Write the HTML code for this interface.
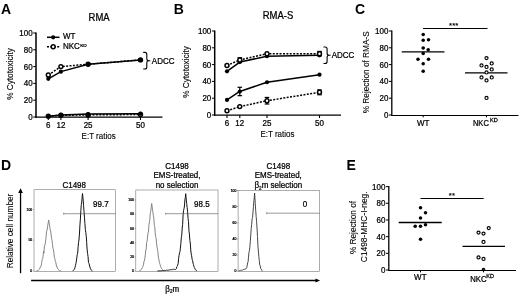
<!DOCTYPE html>
<html><head><meta charset="utf-8"><title>Figure</title>
<style>html,body{margin:0;padding:0;background:#fff;}svg{display:block;filter:blur(0.3px);}text{font-family:"Liberation Sans",Arial,Helvetica,sans-serif;}</style>
</head><body>
<svg width="520" height="296" viewBox="0 0 520 296">
<rect width="520" height="296" fill="#fff"/>
<text transform="translate(1 14) scale(1 1)" font-size="14" text-anchor="start" font-weight="bold" fill="#000" >A</text>
<line x1="36" y1="32.5" x2="36" y2="117.7" stroke="#000" stroke-width="1.5" stroke-linecap="butt"/>
<line x1="35.3" y1="117" x2="162.5" y2="117" stroke="#000" stroke-width="1.25" stroke-linecap="butt"/>
<line x1="33.2" y1="117.0" x2="36" y2="117.0" stroke="#000" stroke-width="1.0" stroke-linecap="butt"/>
<text transform="translate(32.6 119.9) scale(0.93 1)" font-size="8.6" text-anchor="end" font-weight="normal" fill="#000" stroke="#000" stroke-width="0.25" >0</text>
<line x1="33.2" y1="100.2" x2="36" y2="100.2" stroke="#000" stroke-width="1.0" stroke-linecap="butt"/>
<text transform="translate(32.6 103.10000000000001) scale(0.93 1)" font-size="8.6" text-anchor="end" font-weight="normal" fill="#000" stroke="#000" stroke-width="0.25" >20</text>
<line x1="33.2" y1="83.4" x2="36" y2="83.4" stroke="#000" stroke-width="1.0" stroke-linecap="butt"/>
<text transform="translate(32.6 86.30000000000001) scale(0.93 1)" font-size="8.6" text-anchor="end" font-weight="normal" fill="#000" stroke="#000" stroke-width="0.25" >40</text>
<line x1="33.2" y1="66.6" x2="36" y2="66.6" stroke="#000" stroke-width="1.0" stroke-linecap="butt"/>
<text transform="translate(32.6 69.5) scale(0.93 1)" font-size="8.6" text-anchor="end" font-weight="normal" fill="#000" stroke="#000" stroke-width="0.25" >60</text>
<line x1="33.2" y1="49.8" x2="36" y2="49.8" stroke="#000" stroke-width="1.0" stroke-linecap="butt"/>
<text transform="translate(32.6 52.699999999999996) scale(0.93 1)" font-size="8.6" text-anchor="end" font-weight="normal" fill="#000" stroke="#000" stroke-width="0.25" >80</text>
<line x1="33.2" y1="33.0" x2="36" y2="33.0" stroke="#000" stroke-width="1.0" stroke-linecap="butt"/>
<text transform="translate(32.6 35.9) scale(0.93 1)" font-size="8.6" text-anchor="end" font-weight="normal" fill="#000" stroke="#000" stroke-width="0.25" >100</text>
<line x1="48.3" y1="117" x2="48.3" y2="120" stroke="#000" stroke-width="1.1" stroke-linecap="butt"/>
<text transform="translate(48.3 127.6) scale(0.93 1)" font-size="8.6" text-anchor="middle" font-weight="normal" fill="#000" stroke="#000" stroke-width="0.25" >6</text>
<line x1="60.9" y1="117" x2="60.9" y2="120" stroke="#000" stroke-width="1.1" stroke-linecap="butt"/>
<text transform="translate(60.9 127.6) scale(0.93 1)" font-size="8.6" text-anchor="middle" font-weight="normal" fill="#000" stroke="#000" stroke-width="0.25" >12</text>
<line x1="88.1" y1="117" x2="88.1" y2="120" stroke="#000" stroke-width="1.1" stroke-linecap="butt"/>
<text transform="translate(88.1 127.6) scale(0.93 1)" font-size="8.6" text-anchor="middle" font-weight="normal" fill="#000" stroke="#000" stroke-width="0.25" >25</text>
<line x1="140.5" y1="117" x2="140.5" y2="120" stroke="#000" stroke-width="1.1" stroke-linecap="butt"/>
<text transform="translate(140.5 127.6) scale(0.93 1)" font-size="8.6" text-anchor="middle" font-weight="normal" fill="#000" stroke="#000" stroke-width="0.25" >50</text>
<text transform="translate(98.60000000000001 139.4) scale(0.93 1)" font-size="8.6" text-anchor="middle" font-weight="normal" fill="#000" stroke="#000" stroke-width="0.12" >E:T ratios</text>
<text transform="translate(13.2 74.0) rotate(-90) scale(0.96 1)" font-size="8.6" text-anchor="middle" font-weight="normal" fill="#000" stroke="#000" stroke-width="0.1" >% Cytotoxicity</text>
<text transform="translate(99.1 21) scale(0.93 1)" font-size="10.21" text-anchor="middle" font-weight="normal" fill="#000" stroke="#000" stroke-width="0.25" >RMA</text>
<polyline points="48.30,75.00 60.90,66.60 88.10,64.25 140.50,59.88" fill="none" stroke="#000" stroke-width="1.5" stroke-linejoin="round" stroke-dasharray="2 1.4"/>
<circle cx="48.3" cy="75.0" r="1.95" fill="#fff" stroke="#000" stroke-width="1.5"/>
<circle cx="60.9" cy="66.6" r="1.95" fill="#fff" stroke="#000" stroke-width="1.5"/>
<circle cx="88.1" cy="64.248" r="1.95" fill="#fff" stroke="#000" stroke-width="1.5"/>
<circle cx="140.5" cy="59.88" r="1.95" fill="#fff" stroke="#000" stroke-width="1.5"/>
<polyline points="48.30,78.78 60.90,71.64 88.10,64.25 140.50,59.88" fill="none" stroke="#000" stroke-width="1.5" stroke-linejoin="round"/>
<circle cx="48.3" cy="78.78" r="2.1" fill="#000" stroke="none" stroke-width="1"/>
<circle cx="60.9" cy="71.64" r="2.1" fill="#000" stroke="none" stroke-width="1"/>
<circle cx="88.1" cy="64.248" r="2.1" fill="#000" stroke="none" stroke-width="1"/>
<circle cx="140.5" cy="59.88" r="2.1" fill="#000" stroke="none" stroke-width="1"/>
<polyline points="48.30,116.16 60.90,115.32 88.10,114.90 140.50,114.48" fill="none" stroke="#000" stroke-width="1.5" stroke-linejoin="round" stroke-dasharray="2 1.4"/>
<circle cx="48.3" cy="116.16" r="1.95" fill="#fff" stroke="#000" stroke-width="1.5"/>
<circle cx="60.9" cy="115.32" r="1.95" fill="#fff" stroke="#000" stroke-width="1.5"/>
<circle cx="88.1" cy="114.9" r="1.95" fill="#fff" stroke="#000" stroke-width="1.5"/>
<circle cx="140.5" cy="114.48" r="1.95" fill="#fff" stroke="#000" stroke-width="1.5"/>
<polyline points="48.30,116.16 60.90,114.90 88.10,114.06 140.50,113.64" fill="none" stroke="#000" stroke-width="1.5" stroke-linejoin="round"/>
<circle cx="48.3" cy="116.16" r="2.1" fill="#000" stroke="none" stroke-width="1"/>
<circle cx="60.9" cy="114.9" r="2.1" fill="#000" stroke="none" stroke-width="1"/>
<circle cx="88.1" cy="114.06" r="2.1" fill="#000" stroke="none" stroke-width="1"/>
<circle cx="140.5" cy="113.64" r="2.1" fill="#000" stroke="none" stroke-width="1"/>
<path d="M143.2 52.4 h1.6 q2 0 2 2 V58.7 q0 2 2 2 h1.5 h-1.5 q-2 0 -2 2 V67 q0 2 -2 2 h-1.6" fill="none" stroke="#000" stroke-width="1.1"/>
<text transform="translate(151.8 63.6) scale(0.93 1)" font-size="8.6" text-anchor="start" font-weight="normal" fill="#000" stroke="#000" stroke-width="0.25" >ADCC</text>
<line x1="47" y1="37.3" x2="59.5" y2="37.3" stroke="#000" stroke-width="1.5" stroke-linecap="butt"/>
<circle cx="53.2" cy="37.3" r="2.1" fill="#000" stroke="none" stroke-width="1"/>
<text transform="translate(63 39.3) scale(0.93 1)" font-size="8.6" text-anchor="start" font-weight="normal" fill="#000" stroke="#000" stroke-width="0.25" >WT</text>
<line x1="47" y1="46.8" x2="59.5" y2="46.8" stroke="#000" stroke-width="1.5" stroke-linecap="butt" stroke-dasharray="2 1.4"/>
<circle cx="53.2" cy="46.8" r="1.95" fill="#fff" stroke="#000" stroke-width="1.5"/>
<text transform="translate(63 48.8) scale(0.93 1)" font-size="8.6" text-anchor="start" font-weight="normal" fill="#000" stroke="#000" stroke-width="0.25" >NKC</text>
<text transform="translate(80.183778 46.72) scale(1.1 1)" font-size="4.3" text-anchor="start" font-weight="normal" fill="#000" stroke="#000" stroke-width="0.25" >KD</text>
<text transform="translate(173.8 14) scale(1 1)" font-size="14" text-anchor="start" font-weight="bold" fill="#000" >B</text>
<line x1="214.7" y1="30.5" x2="214.7" y2="115.7" stroke="#000" stroke-width="1.5" stroke-linecap="butt"/>
<line x1="214.0" y1="115" x2="341" y2="115" stroke="#000" stroke-width="1.25" stroke-linecap="butt"/>
<line x1="211.89999999999998" y1="115.0" x2="214.7" y2="115.0" stroke="#000" stroke-width="1.0" stroke-linecap="butt"/>
<text transform="translate(211.29999999999998 117.9) scale(0.93 1)" font-size="8.6" text-anchor="end" font-weight="normal" fill="#000" stroke="#000" stroke-width="0.25" >0</text>
<line x1="211.89999999999998" y1="98.2" x2="214.7" y2="98.2" stroke="#000" stroke-width="1.0" stroke-linecap="butt"/>
<text transform="translate(211.29999999999998 101.10000000000001) scale(0.93 1)" font-size="8.6" text-anchor="end" font-weight="normal" fill="#000" stroke="#000" stroke-width="0.25" >20</text>
<line x1="211.89999999999998" y1="81.4" x2="214.7" y2="81.4" stroke="#000" stroke-width="1.0" stroke-linecap="butt"/>
<text transform="translate(211.29999999999998 84.30000000000001) scale(0.93 1)" font-size="8.6" text-anchor="end" font-weight="normal" fill="#000" stroke="#000" stroke-width="0.25" >40</text>
<line x1="211.89999999999998" y1="64.6" x2="214.7" y2="64.6" stroke="#000" stroke-width="1.0" stroke-linecap="butt"/>
<text transform="translate(211.29999999999998 67.5) scale(0.93 1)" font-size="8.6" text-anchor="end" font-weight="normal" fill="#000" stroke="#000" stroke-width="0.25" >60</text>
<line x1="211.89999999999998" y1="47.8" x2="214.7" y2="47.8" stroke="#000" stroke-width="1.0" stroke-linecap="butt"/>
<text transform="translate(211.29999999999998 50.699999999999996) scale(0.93 1)" font-size="8.6" text-anchor="end" font-weight="normal" fill="#000" stroke="#000" stroke-width="0.25" >80</text>
<line x1="211.89999999999998" y1="31.0" x2="214.7" y2="31.0" stroke="#000" stroke-width="1.0" stroke-linecap="butt"/>
<text transform="translate(211.29999999999998 33.9) scale(0.93 1)" font-size="8.6" text-anchor="end" font-weight="normal" fill="#000" stroke="#000" stroke-width="0.25" >100</text>
<line x1="227" y1="115" x2="227" y2="118" stroke="#000" stroke-width="1.1" stroke-linecap="butt"/>
<text transform="translate(227 125.6) scale(0.93 1)" font-size="8.6" text-anchor="middle" font-weight="normal" fill="#000" stroke="#000" stroke-width="0.25" >6</text>
<line x1="239.8" y1="115" x2="239.8" y2="118" stroke="#000" stroke-width="1.1" stroke-linecap="butt"/>
<text transform="translate(239.8 125.6) scale(0.93 1)" font-size="8.6" text-anchor="middle" font-weight="normal" fill="#000" stroke="#000" stroke-width="0.25" >12</text>
<line x1="267" y1="115" x2="267" y2="118" stroke="#000" stroke-width="1.1" stroke-linecap="butt"/>
<text transform="translate(267 125.6) scale(0.93 1)" font-size="8.6" text-anchor="middle" font-weight="normal" fill="#000" stroke="#000" stroke-width="0.25" >25</text>
<line x1="319.5" y1="115" x2="319.5" y2="118" stroke="#000" stroke-width="1.1" stroke-linecap="butt"/>
<text transform="translate(319.5 125.6) scale(0.93 1)" font-size="8.6" text-anchor="middle" font-weight="normal" fill="#000" stroke="#000" stroke-width="0.25" >50</text>
<text transform="translate(277.45 137.4) scale(0.93 1)" font-size="8.6" text-anchor="middle" font-weight="normal" fill="#000" stroke="#000" stroke-width="0.12" >E:T ratios</text>
<text transform="translate(189.4 72.0) rotate(-90) scale(0.96 1)" font-size="8.6" text-anchor="middle" font-weight="normal" fill="#000" stroke="#000" stroke-width="0.1" >% Cytotoxicity</text>
<text transform="translate(278 19.3) scale(0.93 1)" font-size="10.21" text-anchor="middle" font-weight="normal" fill="#000" stroke="#000" stroke-width="0.25" >RMA-S</text>
<polyline points="227.00,71.32 239.80,62.08 267.00,56.20 319.50,55.36" fill="none" stroke="#000" stroke-width="1.5" stroke-linejoin="round"/>
<circle cx="227" cy="71.32" r="2.1" fill="#000" stroke="none" stroke-width="1"/>
<circle cx="239.8" cy="62.080000000000005" r="2.1" fill="#000" stroke="none" stroke-width="1"/>
<circle cx="267" cy="56.2" r="2.1" fill="#000" stroke="none" stroke-width="1"/>
<circle cx="319.5" cy="55.36" r="2.1" fill="#000" stroke="none" stroke-width="1"/>
<polyline points="227.00,65.44 239.80,59.98 267.00,53.68 319.50,53.68" fill="none" stroke="#000" stroke-width="1.5" stroke-linejoin="round" stroke-dasharray="2 1.4"/>
<circle cx="227" cy="65.44" r="1.95" fill="#fff" stroke="#000" stroke-width="1.5"/>
<line x1="239.8" y1="57.712" x2="239.8" y2="62.248000000000005" stroke="#000" stroke-width="1.2" stroke-linecap="butt"/>
<line x1="237.5" y1="57.712" x2="242.10000000000002" y2="57.712" stroke="#000" stroke-width="1.2" stroke-linecap="butt"/>
<line x1="237.5" y1="62.248000000000005" x2="242.10000000000002" y2="62.248000000000005" stroke="#000" stroke-width="1.2" stroke-linecap="butt"/>
<circle cx="239.8" cy="59.980000000000004" r="1.95" fill="#fff" stroke="#000" stroke-width="1.5"/>
<circle cx="267" cy="53.68" r="1.95" fill="#fff" stroke="#000" stroke-width="1.5"/>
<line x1="319.5" y1="51.412" x2="319.5" y2="55.948" stroke="#000" stroke-width="1.2" stroke-linecap="butt"/>
<line x1="317.2" y1="51.412" x2="321.8" y2="51.412" stroke="#000" stroke-width="1.2" stroke-linecap="butt"/>
<line x1="317.2" y1="55.948" x2="321.8" y2="55.948" stroke="#000" stroke-width="1.2" stroke-linecap="butt"/>
<circle cx="319.5" cy="53.68" r="1.95" fill="#fff" stroke="#000" stroke-width="1.5"/>
<polyline points="227.00,99.88 239.80,91.48 267.00,82.24 319.50,74.68" fill="none" stroke="#000" stroke-width="1.5" stroke-linejoin="round"/>
<circle cx="227" cy="99.88" r="2.1" fill="#000" stroke="none" stroke-width="1"/>
<line x1="239.8" y1="87.28" x2="239.8" y2="95.68" stroke="#000" stroke-width="1.2" stroke-linecap="butt"/>
<line x1="237.5" y1="87.28" x2="242.10000000000002" y2="87.28" stroke="#000" stroke-width="1.2" stroke-linecap="butt"/>
<line x1="237.5" y1="95.68" x2="242.10000000000002" y2="95.68" stroke="#000" stroke-width="1.2" stroke-linecap="butt"/>
<circle cx="239.8" cy="91.48" r="2.1" fill="#000" stroke="none" stroke-width="1"/>
<circle cx="267" cy="82.24000000000001" r="2.1" fill="#000" stroke="none" stroke-width="1"/>
<circle cx="319.5" cy="74.68" r="2.1" fill="#000" stroke="none" stroke-width="1"/>
<polyline points="227.00,110.80 239.80,106.60 267.00,100.72 319.50,92.32" fill="none" stroke="#000" stroke-width="1.5" stroke-linejoin="round" stroke-dasharray="2 1.4"/>
<circle cx="227" cy="110.8" r="1.95" fill="#fff" stroke="#000" stroke-width="1.5"/>
<circle cx="239.8" cy="106.6" r="1.95" fill="#fff" stroke="#000" stroke-width="1.5"/>
<line x1="267" y1="97.444" x2="267" y2="103.996" stroke="#000" stroke-width="1.2" stroke-linecap="butt"/>
<line x1="264.7" y1="97.444" x2="269.3" y2="97.444" stroke="#000" stroke-width="1.2" stroke-linecap="butt"/>
<line x1="264.7" y1="103.996" x2="269.3" y2="103.996" stroke="#000" stroke-width="1.2" stroke-linecap="butt"/>
<circle cx="267" cy="100.72" r="1.95" fill="#fff" stroke="#000" stroke-width="1.5"/>
<line x1="319.5" y1="89.88399999999999" x2="319.5" y2="94.756" stroke="#000" stroke-width="1.2" stroke-linecap="butt"/>
<line x1="317.2" y1="89.88399999999999" x2="321.8" y2="89.88399999999999" stroke="#000" stroke-width="1.2" stroke-linecap="butt"/>
<line x1="317.2" y1="94.756" x2="321.8" y2="94.756" stroke="#000" stroke-width="1.2" stroke-linecap="butt"/>
<circle cx="319.5" cy="92.32" r="1.95" fill="#fff" stroke="#000" stroke-width="1.5"/>
<path d="M323.5 47 h1.6 q2 0 2 2 V53.25 q0 2 2 2 h1.5 h-1.5 q-2 0 -2 2 V61.5 q0 2 -2 2 h-1.6" fill="none" stroke="#000" stroke-width="1.1"/>
<text transform="translate(331.7 58.15) scale(0.93 1)" font-size="8.6" text-anchor="start" font-weight="normal" fill="#000" stroke="#000" stroke-width="0.25" >ADCC</text>
<text transform="translate(355 14) scale(1 1)" font-size="14" text-anchor="start" font-weight="bold" fill="#000" >C</text>
<line x1="391.8" y1="30.5" x2="391.8" y2="115.5" stroke="#000" stroke-width="1.3" stroke-linecap="butt"/>
<line x1="391.2" y1="115.45" x2="518.5" y2="115.45" stroke="#000" stroke-width="1.15" stroke-linecap="butt"/>
<line x1="389.0" y1="115.0" x2="391.8" y2="115.0" stroke="#000" stroke-width="1.0" stroke-linecap="butt"/>
<text transform="translate(388.40000000000003 117.9) scale(0.93 1)" font-size="8.6" text-anchor="end" font-weight="normal" fill="#000" stroke="#000" stroke-width="0.25" >0</text>
<line x1="389.0" y1="98.2" x2="391.8" y2="98.2" stroke="#000" stroke-width="1.0" stroke-linecap="butt"/>
<text transform="translate(388.40000000000003 101.10000000000001) scale(0.93 1)" font-size="8.6" text-anchor="end" font-weight="normal" fill="#000" stroke="#000" stroke-width="0.25" >20</text>
<line x1="389.0" y1="81.4" x2="391.8" y2="81.4" stroke="#000" stroke-width="1.0" stroke-linecap="butt"/>
<text transform="translate(388.40000000000003 84.30000000000001) scale(0.93 1)" font-size="8.6" text-anchor="end" font-weight="normal" fill="#000" stroke="#000" stroke-width="0.25" >40</text>
<line x1="389.0" y1="64.6" x2="391.8" y2="64.6" stroke="#000" stroke-width="1.0" stroke-linecap="butt"/>
<text transform="translate(388.40000000000003 67.5) scale(0.93 1)" font-size="8.6" text-anchor="end" font-weight="normal" fill="#000" stroke="#000" stroke-width="0.25" >60</text>
<line x1="389.0" y1="47.8" x2="391.8" y2="47.8" stroke="#000" stroke-width="1.0" stroke-linecap="butt"/>
<text transform="translate(388.40000000000003 50.699999999999996) scale(0.93 1)" font-size="8.6" text-anchor="end" font-weight="normal" fill="#000" stroke="#000" stroke-width="0.25" >80</text>
<line x1="389.0" y1="31.0" x2="391.8" y2="31.0" stroke="#000" stroke-width="1.0" stroke-linecap="butt"/>
<text transform="translate(388.40000000000003 33.9) scale(0.93 1)" font-size="8.6" text-anchor="end" font-weight="normal" fill="#000" stroke="#000" stroke-width="0.25" >100</text>
<line x1="423.2" y1="115" x2="423.2" y2="117.4" stroke="#000" stroke-width="1.0" stroke-linecap="butt"/>
<line x1="486.5" y1="115" x2="486.5" y2="117.4" stroke="#000" stroke-width="1.0" stroke-linecap="butt"/>
<text transform="translate(369.1 72.3) rotate(-90) scale(0.96 1)" font-size="8.6" text-anchor="middle" font-weight="normal" fill="#000" stroke="#000" stroke-width="0.1" >% Rejection of RMA-S</text>
<line x1="423" y1="28.5" x2="487.5" y2="28.5" stroke="#000" stroke-width="1.2" stroke-linecap="butt"/>
<text transform="translate(453.7 28.3) scale(1.0 1)" font-size="7.74" text-anchor="middle" font-weight="normal" fill="#000" stroke="#000" stroke-width="0.15" letter-spacing="0.1">***</text>
<line x1="401.7" y1="51.9" x2="444.5" y2="51.9" stroke="#000" stroke-width="1.3" stroke-linecap="butt"/>
<circle cx="423.2" cy="34.5" r="1.78" fill="#000" stroke="none" stroke-width="1"/>
<circle cx="423.2" cy="40.2" r="1.78" fill="#000" stroke="none" stroke-width="1"/>
<circle cx="428.5" cy="39.7" r="1.78" fill="#000" stroke="none" stroke-width="1"/>
<circle cx="423.2" cy="48" r="1.78" fill="#000" stroke="none" stroke-width="1"/>
<circle cx="428.2" cy="49.7" r="1.78" fill="#000" stroke="none" stroke-width="1"/>
<circle cx="423.2" cy="53.5" r="1.78" fill="#000" stroke="none" stroke-width="1"/>
<circle cx="418" cy="59.2" r="1.78" fill="#000" stroke="none" stroke-width="1"/>
<circle cx="428.5" cy="59.2" r="1.78" fill="#000" stroke="none" stroke-width="1"/>
<circle cx="423.2" cy="63.7" r="1.78" fill="#000" stroke="none" stroke-width="1"/>
<circle cx="423.2" cy="71.2" r="1.78" fill="#000" stroke="none" stroke-width="1"/>
<line x1="465" y1="72.9" x2="507.5" y2="72.9" stroke="#000" stroke-width="1.3" stroke-linecap="butt"/>
<circle cx="486.5" cy="58.1" r="1.55" fill="#fff" stroke="#000" stroke-width="1.15"/>
<circle cx="481.5" cy="65.4" r="1.55" fill="#fff" stroke="#000" stroke-width="1.15"/>
<circle cx="491.7" cy="63.4" r="1.55" fill="#fff" stroke="#000" stroke-width="1.15"/>
<circle cx="486.5" cy="66.9" r="1.55" fill="#fff" stroke="#000" stroke-width="1.15"/>
<circle cx="491.7" cy="69.4" r="1.55" fill="#fff" stroke="#000" stroke-width="1.15"/>
<circle cx="486.5" cy="72.4" r="1.55" fill="#fff" stroke="#000" stroke-width="1.15"/>
<circle cx="481.5" cy="77.4" r="1.55" fill="#fff" stroke="#000" stroke-width="1.15"/>
<circle cx="491.7" cy="77.4" r="1.55" fill="#fff" stroke="#000" stroke-width="1.15"/>
<circle cx="486.5" cy="80.4" r="1.55" fill="#fff" stroke="#000" stroke-width="1.15"/>
<circle cx="486.5" cy="97.9" r="1.55" fill="#fff" stroke="#000" stroke-width="1.15"/>
<text transform="translate(423.2 125.6) scale(0.93 1)" font-size="8.6" text-anchor="middle" font-weight="normal" fill="#000" stroke="#000" stroke-width="0.25" >WT</text>
<text transform="translate(472.9 125.7) scale(0.88 1)" font-size="8.6" text-anchor="start" font-weight="normal" fill="#000" stroke="#000" stroke-width="0.25" >NKC</text>
<text transform="translate(490.07604799999996 121.7) scale(1.05 1)" font-size="5.33" text-anchor="start" font-weight="normal" fill="#000" stroke="#000" stroke-width="0.25" >KD</text>
<text transform="translate(346.6 170) scale(1 1)" font-size="14" text-anchor="start" font-weight="bold" fill="#000" >E</text>
<line x1="388.8" y1="186.1" x2="388.8" y2="270.5" stroke="#000" stroke-width="1.3" stroke-linecap="butt"/>
<line x1="388.2" y1="270.45" x2="516" y2="270.45" stroke="#000" stroke-width="1.15" stroke-linecap="butt"/>
<line x1="386.0" y1="270.0" x2="388.8" y2="270.0" stroke="#000" stroke-width="1.0" stroke-linecap="butt"/>
<text transform="translate(385.40000000000003 272.9) scale(0.93 1)" font-size="8.6" text-anchor="end" font-weight="normal" fill="#000" stroke="#000" stroke-width="0.25" >0</text>
<line x1="386.0" y1="253.32" x2="388.8" y2="253.32" stroke="#000" stroke-width="1.0" stroke-linecap="butt"/>
<text transform="translate(385.40000000000003 256.21999999999997) scale(0.93 1)" font-size="8.6" text-anchor="end" font-weight="normal" fill="#000" stroke="#000" stroke-width="0.25" >20</text>
<line x1="386.0" y1="236.64" x2="388.8" y2="236.64" stroke="#000" stroke-width="1.0" stroke-linecap="butt"/>
<text transform="translate(385.40000000000003 239.54) scale(0.93 1)" font-size="8.6" text-anchor="end" font-weight="normal" fill="#000" stroke="#000" stroke-width="0.25" >40</text>
<line x1="386.0" y1="219.95999999999998" x2="388.8" y2="219.95999999999998" stroke="#000" stroke-width="1.0" stroke-linecap="butt"/>
<text transform="translate(385.40000000000003 222.85999999999999) scale(0.93 1)" font-size="8.6" text-anchor="end" font-weight="normal" fill="#000" stroke="#000" stroke-width="0.25" >60</text>
<line x1="386.0" y1="203.28" x2="388.8" y2="203.28" stroke="#000" stroke-width="1.0" stroke-linecap="butt"/>
<text transform="translate(385.40000000000003 206.18) scale(0.93 1)" font-size="8.6" text-anchor="end" font-weight="normal" fill="#000" stroke="#000" stroke-width="0.25" >80</text>
<line x1="386.0" y1="186.6" x2="388.8" y2="186.6" stroke="#000" stroke-width="1.0" stroke-linecap="butt"/>
<text transform="translate(385.40000000000003 189.5) scale(0.93 1)" font-size="8.6" text-anchor="end" font-weight="normal" fill="#000" stroke="#000" stroke-width="0.25" >100</text>
<line x1="420.5" y1="270.0" x2="420.5" y2="272.4" stroke="#000" stroke-width="1.0" stroke-linecap="butt"/>
<line x1="483.5" y1="270.0" x2="483.5" y2="272.4" stroke="#000" stroke-width="1.0" stroke-linecap="butt"/>
<text transform="translate(355.8 227.5) rotate(-90) scale(0.96 1)" font-size="8.6" text-anchor="middle" font-weight="normal" fill="#000" stroke="#000" stroke-width="0.1" >% Rejection of</text>
<text transform="translate(367 226.8) rotate(-90) scale(0.975 1)" font-size="8.6" text-anchor="middle" font-weight="normal" fill="#000" stroke="#000" stroke-width="0.1" >C1498-MHC-I-neg.</text>
<line x1="420.5" y1="198.5" x2="483.7" y2="198.5" stroke="#000" stroke-width="1.2" stroke-linecap="butt"/>
<text transform="translate(451.9 198.0) scale(1.0 1)" font-size="7.74" text-anchor="middle" font-weight="normal" fill="#000" stroke="#000" stroke-width="0.15" letter-spacing="0.1">**</text>
<line x1="398.7" y1="222.5" x2="441.7" y2="222.5" stroke="#000" stroke-width="1.3" stroke-linecap="butt"/>
<circle cx="420.5" cy="207.7" r="1.78" fill="#000" stroke="none" stroke-width="1"/>
<circle cx="425.5" cy="212.7" r="1.78" fill="#000" stroke="none" stroke-width="1"/>
<circle cx="420.5" cy="218" r="1.78" fill="#000" stroke="none" stroke-width="1"/>
<circle cx="425.5" cy="224.7" r="1.78" fill="#000" stroke="none" stroke-width="1"/>
<circle cx="415.2" cy="226.2" r="1.78" fill="#000" stroke="none" stroke-width="1"/>
<circle cx="420.5" cy="226.2" r="1.78" fill="#000" stroke="none" stroke-width="1"/>
<circle cx="420.5" cy="239.2" r="1.78" fill="#000" stroke="none" stroke-width="1"/>
<line x1="462.5" y1="246.3" x2="505" y2="246.3" stroke="#000" stroke-width="1.3" stroke-linecap="butt"/>
<circle cx="488.7" cy="228.1" r="1.55" fill="#fff" stroke="#000" stroke-width="1.15"/>
<circle cx="478.5" cy="232.6" r="1.55" fill="#fff" stroke="#000" stroke-width="1.15"/>
<circle cx="483.5" cy="233.6" r="1.55" fill="#fff" stroke="#000" stroke-width="1.15"/>
<circle cx="483.5" cy="241.9" r="1.55" fill="#fff" stroke="#000" stroke-width="1.15"/>
<circle cx="478.5" cy="257.4" r="1.55" fill="#fff" stroke="#000" stroke-width="1.15"/>
<circle cx="483.5" cy="258.9" r="1.55" fill="#fff" stroke="#000" stroke-width="1.15"/>
<circle cx="483.5" cy="269.5" r="1.1" fill="#fff" stroke="#000" stroke-width="1.5"/>
<text transform="translate(420.3 280) scale(0.93 1)" font-size="8.6" text-anchor="middle" font-weight="normal" fill="#000" stroke="#000" stroke-width="0.25" >WT</text>
<text transform="translate(470.2 281.5) scale(0.9 1)" font-size="8.6" text-anchor="start" font-weight="normal" fill="#000" stroke="#000" stroke-width="0.25" >NKC</text>
<text transform="translate(486.23913999999996 277.5) scale(1.05 1)" font-size="5.33" text-anchor="start" font-weight="normal" fill="#000" stroke="#000" stroke-width="0.25" >KD</text>
<text transform="translate(1 170) scale(1 1)" font-size="14" text-anchor="start" font-weight="bold" fill="#000" >D</text>
<rect x="34.0" y="189.7" width="81.6" height="81.80000000000001" fill="none" stroke="#777" stroke-width="0.6"/>
<polyline points="36.30,270.97 36.75,270.89 37.20,270.81 37.65,270.53 38.10,270.44 38.55,269.95 39.00,269.75 39.45,269.23 39.90,268.20 40.35,266.69 40.80,266.73 41.25,265.28 41.70,262.65 42.15,259.64 42.60,258.62 43.05,256.88 43.50,251.55 43.95,253.05 44.40,245.91 44.85,245.60 45.30,243.06 45.75,239.86 46.20,235.78 46.65,230.85 47.10,230.21 47.55,226.46 48.00,223.94 48.45,221.65 48.70,220.00 48.90,221.25 49.35,224.50 49.80,227.35 50.25,229.82 50.70,231.04 51.15,234.93 51.60,238.58 52.05,240.50 52.50,244.41 52.95,248.40 53.40,249.03 53.85,252.50 54.30,257.25 54.75,258.36 55.20,260.78 55.65,261.75 56.10,263.94 56.55,266.29 57.00,266.33 57.45,268.48 57.90,268.87 58.35,269.22 58.80,270.05 59.25,270.24 59.70,270.63 60.15,270.68 60.60,270.82 61.05,270.96" fill="none" stroke="#777" stroke-width="0.9" stroke-linejoin="round"/>
<polyline points="72.75,270.72 73.20,270.50 73.65,270.02 74.10,269.71 74.55,269.09 75.00,267.39 75.45,265.50 75.90,263.67 76.35,261.18 76.80,257.92 77.25,254.44 77.70,253.02 78.15,246.46 78.60,242.26 79.05,239.03 79.50,233.00 79.95,224.87 80.40,218.90 80.85,210.64 81.30,204.56 81.75,201.90 82.20,196.41 82.50,193.50 82.65,194.96 83.10,199.07 83.55,205.44 84.00,211.39 84.45,217.12 84.90,223.41 85.35,229.57 85.80,232.44 86.25,236.29 86.70,242.47 87.15,249.99 87.60,253.49 88.05,256.78 88.50,262.68 88.95,263.37 89.40,264.99 89.85,266.95 90.30,268.27 90.75,269.39 91.20,270.14 91.65,270.31 92.10,270.72 92.55,270.84" fill="none" stroke="#111" stroke-width="1.0" stroke-linejoin="round"/>
<line x1="63.7" y1="213.7" x2="115.6" y2="213.7" stroke="#555" stroke-width="0.6" stroke-linecap="butt"/>
<line x1="63.7" y1="212.7" x2="63.7" y2="214.7" stroke="#555" stroke-width="0.6" stroke-linecap="butt"/>
<text transform="translate(100.8 207.4) scale(0.93 1)" font-size="8.6" text-anchor="middle" font-weight="normal" fill="#000" stroke="#000" stroke-width="0.25" >99.7</text>
<line x1="32.8" y1="209.5" x2="34.0" y2="209.5" stroke="#666" stroke-width="0.5" stroke-linecap="butt"/>
<text transform="translate(32.2 210.6) scale(0.93 1)" font-size="3.65" text-anchor="end" font-weight="normal" fill="#222" stroke="#000" stroke-width="0.25" >100</text>
<line x1="32.8" y1="240.3" x2="34.0" y2="240.3" stroke="#666" stroke-width="0.5" stroke-linecap="butt"/>
<text transform="translate(32.2 241.4) scale(0.93 1)" font-size="3.65" text-anchor="end" font-weight="normal" fill="#222" stroke="#000" stroke-width="0.25" >50</text>
<line x1="32.8" y1="271.2" x2="34.0" y2="271.2" stroke="#666" stroke-width="0.5" stroke-linecap="butt"/>
<text transform="translate(32.2 272.3) scale(0.93 1)" font-size="3.65" text-anchor="end" font-weight="normal" fill="#222" stroke="#000" stroke-width="0.25" >0</text>
<rect x="135.8" y="190" width="82.19999999999999" height="81.5" fill="none" stroke="#777" stroke-width="0.6"/>
<polyline points="139.00,270.86 139.45,270.62 139.90,270.40 140.35,270.32 140.80,269.98 141.25,269.51 141.70,268.99 142.15,267.84 142.60,267.34 143.05,265.90 143.50,265.18 143.95,261.24 144.40,260.93 144.85,258.17 145.30,254.83 145.75,249.95 146.20,249.25 146.65,242.44 147.10,241.23 147.55,236.99 148.00,232.94 148.45,232.05 148.90,225.33 149.35,222.79 149.80,219.72 150.25,213.04 150.70,211.76 151.15,207.76 151.60,204.25 151.70,203.50 152.05,206.20 152.50,209.87 152.95,212.61 153.40,215.75 153.85,218.11 154.30,225.45 154.75,226.82 155.20,232.91 155.65,236.89 156.10,237.62 156.55,243.36 157.00,246.80 157.45,249.21 157.90,251.79 158.35,257.07 158.80,258.93 159.25,261.58 159.70,263.48 160.15,264.69 160.60,266.53 161.05,267.49 161.50,268.43 161.95,268.75 162.40,269.52 162.85,269.89 163.30,270.23 163.75,270.67 164.20,270.78 164.65,270.86" fill="none" stroke="#777" stroke-width="0.9" stroke-linejoin="round"/>
<polyline points="157.45,270.87 157.90,270.80 158.35,270.87 158.80,270.87 159.25,270.79 159.70,270.81 160.15,270.82 160.60,270.78 161.05,270.78 161.50,270.73 161.95,270.68 162.40,270.65 162.85,270.51 163.30,270.60 163.75,270.51 164.20,270.57 164.65,270.49 165.10,270.56 165.55,270.45 166.00,270.49 166.45,270.20 166.90,270.22 167.35,270.32 167.80,270.16 168.25,269.92 168.70,270.24 169.15,269.86 169.60,269.99 170.05,269.91 170.50,269.68 170.95,269.86 171.40,269.74 171.85,269.58 172.30,269.34 172.75,269.68 173.20,269.30 173.65,269.32 174.10,269.30 174.55,269.41 175.00,269.39 175.45,269.56 175.90,269.27 176.35,268.65 176.80,266.75 177.25,266.32 177.70,265.09 178.15,263.59 178.60,258.63 179.05,255.49 179.50,253.10 179.95,251.74 180.40,248.15 180.85,243.56 181.30,237.72 181.75,235.21 182.20,228.02 182.65,224.40 183.10,214.81 183.55,210.54 184.00,208.78 184.45,205.98 184.90,199.89 185.35,197.43 185.70,193.70 185.80,194.81 186.25,200.06 186.70,203.52 187.15,207.43 187.60,211.79 188.05,218.54 188.50,221.66 188.95,230.69 189.40,234.02 189.85,240.49 190.30,243.02 190.75,249.94 191.20,253.92 191.65,255.81 192.10,259.21 192.55,260.51 193.00,263.05 193.45,264.47 193.90,266.29 194.35,267.48 194.80,268.33 195.25,269.49 195.70,270.02 196.15,270.15 196.60,270.68 197.05,270.76" fill="none" stroke="#111" stroke-width="1.0" stroke-linejoin="round"/>
<line x1="165.7" y1="213.7" x2="218" y2="213.7" stroke="#555" stroke-width="0.6" stroke-linecap="butt"/>
<line x1="165.7" y1="212.7" x2="165.7" y2="214.7" stroke="#555" stroke-width="0.6" stroke-linecap="butt"/>
<text transform="translate(201.8 207.4) scale(0.93 1)" font-size="8.6" text-anchor="middle" font-weight="normal" fill="#000" stroke="#000" stroke-width="0.25" >98.5</text>
<line x1="134.60000000000002" y1="200" x2="135.8" y2="200" stroke="#666" stroke-width="0.5" stroke-linecap="butt"/>
<text transform="translate(134.0 201.1) scale(0.93 1)" font-size="3.65" text-anchor="end" font-weight="normal" fill="#222" stroke="#000" stroke-width="0.25" >100</text>
<line x1="134.60000000000002" y1="214" x2="135.8" y2="214" stroke="#666" stroke-width="0.5" stroke-linecap="butt"/>
<text transform="translate(134.0 215.1) scale(0.93 1)" font-size="3.65" text-anchor="end" font-weight="normal" fill="#222" stroke="#000" stroke-width="0.25" >80</text>
<line x1="134.60000000000002" y1="228.5" x2="135.8" y2="228.5" stroke="#666" stroke-width="0.5" stroke-linecap="butt"/>
<text transform="translate(134.0 229.6) scale(0.93 1)" font-size="3.65" text-anchor="end" font-weight="normal" fill="#222" stroke="#000" stroke-width="0.25" >60</text>
<line x1="134.60000000000002" y1="243" x2="135.8" y2="243" stroke="#666" stroke-width="0.5" stroke-linecap="butt"/>
<text transform="translate(134.0 244.1) scale(0.93 1)" font-size="3.65" text-anchor="end" font-weight="normal" fill="#222" stroke="#000" stroke-width="0.25" >40</text>
<line x1="134.60000000000002" y1="257" x2="135.8" y2="257" stroke="#666" stroke-width="0.5" stroke-linecap="butt"/>
<text transform="translate(134.0 258.1) scale(0.93 1)" font-size="3.65" text-anchor="end" font-weight="normal" fill="#222" stroke="#000" stroke-width="0.25" >20</text>
<line x1="134.60000000000002" y1="271.2" x2="135.8" y2="271.2" stroke="#666" stroke-width="0.5" stroke-linecap="butt"/>
<text transform="translate(134.0 272.3) scale(0.93 1)" font-size="3.65" text-anchor="end" font-weight="normal" fill="#222" stroke="#000" stroke-width="0.25" >0</text>
<rect x="238.1" y="190.4" width="81.4" height="81.1" fill="none" stroke="#777" stroke-width="0.6"/>
<polyline points="238.60,270.82 239.05,270.72 239.50,270.72 239.95,270.47 240.40,270.46 240.85,270.35 241.30,270.25 241.75,270.11 242.20,270.08 242.65,270.19 243.10,269.65 243.55,269.51 244.00,269.50 244.45,269.31 244.90,269.03 245.35,269.34 245.80,268.53 246.25,268.40 246.70,267.62 247.15,265.91 247.60,262.84 248.05,262.13 248.50,257.16 248.95,252.31 249.40,250.86 249.85,247.16 250.30,241.62 250.75,234.80 251.20,228.68 251.65,224.37 252.10,218.87 252.55,217.44 253.00,211.94 253.45,206.74 253.90,200.69 254.35,196.78 254.60,193.00 254.80,195.90 255.25,203.59 255.70,210.39 256.15,216.56 256.60,221.30 257.05,228.80 257.50,236.54 257.95,246.41 258.40,251.10 258.85,256.63 259.30,260.82 259.75,264.97 260.20,265.68 260.65,268.46 261.10,268.92 261.55,269.84 262.00,270.66 262.45,270.83" fill="none" stroke="#333" stroke-width="0.9" stroke-linejoin="round"/>
<line x1="266.7" y1="213.2" x2="319.5" y2="213.2" stroke="#555" stroke-width="0.6" stroke-linecap="butt"/>
<line x1="266.7" y1="212.2" x2="266.7" y2="214.2" stroke="#555" stroke-width="0.6" stroke-linecap="butt"/>
<text transform="translate(305 207.4) scale(0.93 1)" font-size="8.6" text-anchor="middle" font-weight="normal" fill="#000" stroke="#000" stroke-width="0.25" >0</text>
<line x1="236.9" y1="190.5" x2="238.1" y2="190.5" stroke="#666" stroke-width="0.5" stroke-linecap="butt"/>
<text transform="translate(236.29999999999998 191.6) scale(0.93 1)" font-size="3.65" text-anchor="end" font-weight="normal" fill="#222" stroke="#000" stroke-width="0.25" >100</text>
<line x1="236.9" y1="206.5" x2="238.1" y2="206.5" stroke="#666" stroke-width="0.5" stroke-linecap="butt"/>
<text transform="translate(236.29999999999998 207.6) scale(0.93 1)" font-size="3.65" text-anchor="end" font-weight="normal" fill="#222" stroke="#000" stroke-width="0.25" >80</text>
<line x1="236.9" y1="223" x2="238.1" y2="223" stroke="#666" stroke-width="0.5" stroke-linecap="butt"/>
<text transform="translate(236.29999999999998 224.1) scale(0.93 1)" font-size="3.65" text-anchor="end" font-weight="normal" fill="#222" stroke="#000" stroke-width="0.25" >60</text>
<line x1="236.9" y1="239" x2="238.1" y2="239" stroke="#666" stroke-width="0.5" stroke-linecap="butt"/>
<text transform="translate(236.29999999999998 240.1) scale(0.93 1)" font-size="3.65" text-anchor="end" font-weight="normal" fill="#222" stroke="#000" stroke-width="0.25" >40</text>
<line x1="236.9" y1="255" x2="238.1" y2="255" stroke="#666" stroke-width="0.5" stroke-linecap="butt"/>
<text transform="translate(236.29999999999998 256.1) scale(0.93 1)" font-size="3.65" text-anchor="end" font-weight="normal" fill="#222" stroke="#000" stroke-width="0.25" >20</text>
<line x1="236.9" y1="271.2" x2="238.1" y2="271.2" stroke="#666" stroke-width="0.5" stroke-linecap="butt"/>
<text transform="translate(236.29999999999998 272.3) scale(0.93 1)" font-size="3.65" text-anchor="end" font-weight="normal" fill="#222" stroke="#000" stroke-width="0.25" >0</text>
<text transform="translate(74.2 187.9) scale(0.93 1)" font-size="8.6" text-anchor="middle" font-weight="normal" fill="#000" stroke="#000" stroke-width="0.25" >C1498</text>
<text transform="translate(177 169.3) scale(0.93 1)" font-size="8.6" text-anchor="middle" font-weight="normal" fill="#000" stroke="#000" stroke-width="0.25" >C1498</text>
<text transform="translate(177 178.0) scale(0.93 1)" font-size="8.6" text-anchor="middle" font-weight="normal" fill="#000" stroke="#000" stroke-width="0.25" >EMS-treated,</text>
<text transform="translate(177 188.3) scale(0.93 1)" font-size="8.6" text-anchor="middle" font-weight="normal" fill="#000" stroke="#000" stroke-width="0.25" >no selection</text>
<text transform="translate(278.3 169.3) scale(0.93 1)" font-size="8.6" text-anchor="middle" font-weight="normal" fill="#000" stroke="#000" stroke-width="0.25" >C1498</text>
<text transform="translate(278.3 178.0) scale(0.93 1)" font-size="8.6" text-anchor="middle" font-weight="normal" fill="#000" stroke="#000" stroke-width="0.25" >EMS-treated,</text>
<text transform="translate(278.3 188.3) scale(0.93 1)" font-size="8.6" text-anchor="middle" font-weight="normal" fill="#000" stroke="#000" stroke-width="0.25" >β<tspan font-size="5" dy="1.6">2</tspan><tspan dy="-1.6">m selection</tspan></text>
<line x1="20.55" y1="273.2" x2="20.55" y2="192" stroke="#000" stroke-width="1.3" stroke-linecap="butt"/>
<path d="M20.55 188.3 L22.9 192.9 L18.2 192.9 Z" fill="#000"/>
<line x1="31.1" y1="280.5" x2="316" y2="280.5" stroke="#000" stroke-width="1.3" stroke-linecap="butt"/>
<path d="M320.1 280.5 L315.5 278.4 L315.5 282.6 Z" fill="#000"/>
<text transform="translate(12.8 231) rotate(-90) scale(0.96 1)" font-size="8.6" text-anchor="middle" font-weight="normal" fill="#000" stroke="#000" stroke-width="0.1" >Relative cell number</text>
<text transform="translate(165.3 291.6) scale(0.93 1)" font-size="8.6" text-anchor="start" font-weight="normal" fill="#000" stroke="#000" stroke-width="0.25" >β<tspan font-size="5" dy="1.6">2</tspan><tspan dy="-1.6">m</tspan></text>
</svg>
</body></html>
